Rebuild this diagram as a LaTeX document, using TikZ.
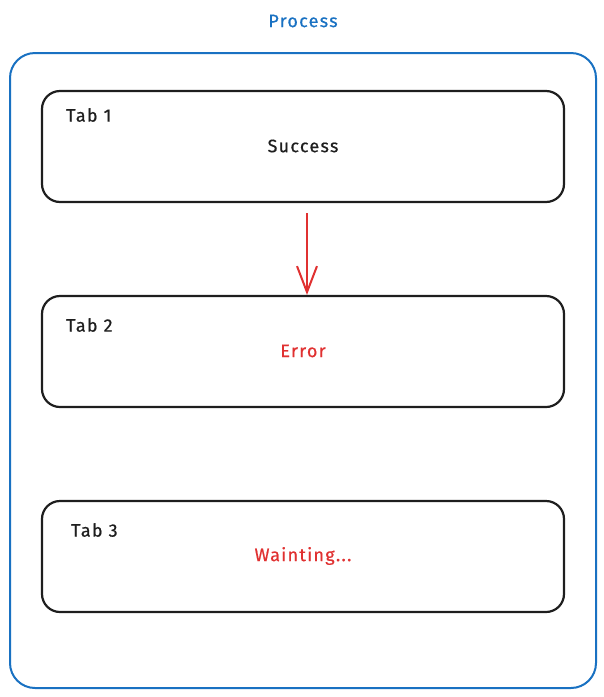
\documentclass[tikz,border=0pt]{standalone}
\usepackage{fontspec}
\setmainfont[LetterSpace=7,FakeBold=0.6]{Fira Sans}
\usetikzlibrary{arrows.meta}
\definecolor{exblue}{HTML}{1971C2}
\definecolor{exred}{HTML}{E03131}
\definecolor{exblack}{HTML}{1E1E1E}
\begin{document}
\begin{tikzpicture}[x=1pt,y=-1pt,
  tabbox/.style={draw=exblack,line width=2.2pt,rounded corners=18pt,minimum width=522pt,minimum height=111pt,inner sep=0pt},
  txt/.style={font=\fontsize{18}{21}\selectfont,inner sep=0pt},
  flow/.style={draw=exred,line width=2pt,-{Straight Barb[length=26pt,width=20pt,line width=2pt]}}]
\useasboundingbox (0,0) rectangle (604,697);
\node[draw=exblue,line width=2pt,rounded corners=25pt,minimum width=586pt,minimum height=635pt,inner sep=0pt] (outer) at (303,370.5) {};
\node[txt,text=exblue] (title) at (303,21) {Process};
\node[tabbox] (tab1) at (303,146.5) {};
\node[tabbox] (tab2) at (303,351.5) {};
\node[tabbox] (tab3) at (303,556.5) {};
\node[txt,text=exblack,anchor=west] (l1) at (66,115) {Tab 1};
\node[txt,text=exblack,anchor=west] (l2) at (66,325) {Tab 2};
\node[txt,text=exblack,anchor=west] (l3) at (71,530) {Tab 3};
\node[txt,text=exblack] (s1) at (303,146) {Success};
\node[txt,text=exred] (s2) at (303,351) {Error};
\node[txt,text=exred] (s3) at (303,556) {Wainting...};
\draw[flow] ([xshift=4pt,yshift=-10pt]tab1.south) -- ([xshift=4pt]tab2.north);
\end{tikzpicture}
\end{document}
